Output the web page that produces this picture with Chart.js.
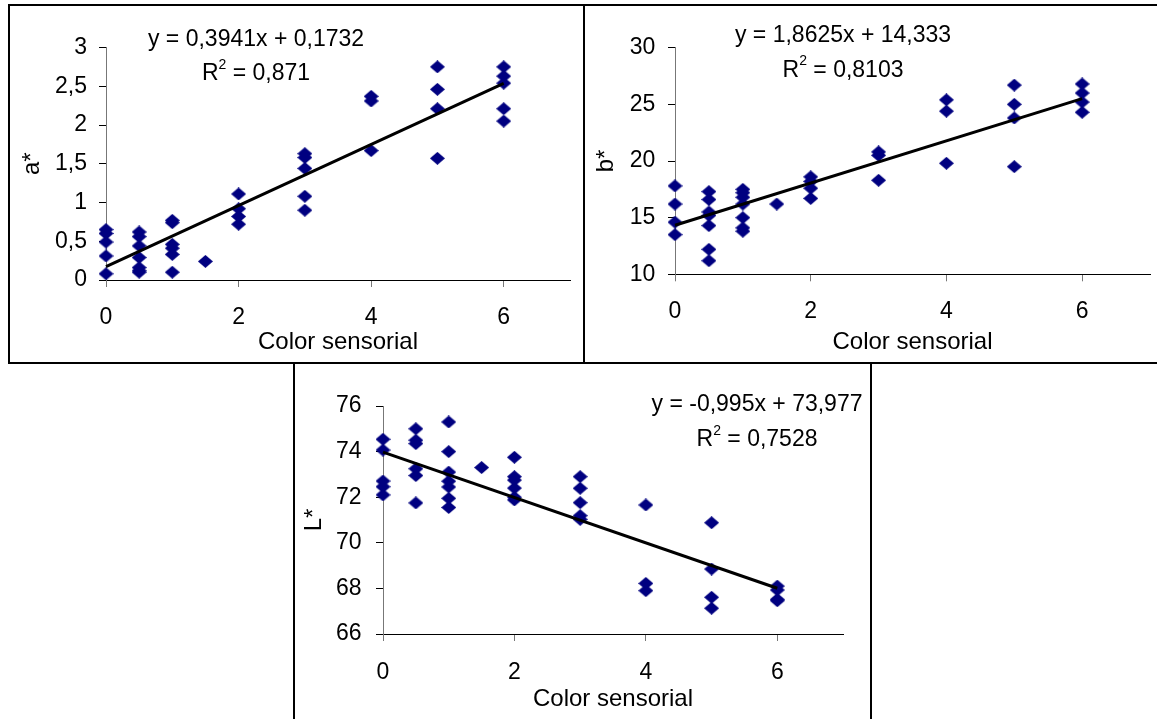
<!DOCTYPE html>
<html>
<head>
<meta charset="utf-8">
<script src="https://cdn.jsdelivr.net/npm/chart.js@4.4.1/dist/chart.umd.min.js"></script>
<style>
  html, body { margin: 0; padding: 0; background: #fff; }
  body { width: 1157px; height: 719px; overflow: hidden; position: relative; }
  canvas { position: absolute; }
  .box { position: absolute; border: 2px solid #000; box-sizing: border-box; pointer-events: none; }
</style>
</head>
<body>
<canvas id="chartA" width="573" height="356" style="left:10px;top:6px"></canvas>
<canvas id="chartB" width="572" height="356" style="left:585px;top:6px"></canvas>
<canvas id="chartL" width="575" height="355" style="left:295px;top:364px"></canvas>
<div class="box" style="left:8px;top:4px;width:577px;height:360px"></div>
<div class="box" style="left:583px;top:4px;width:580px;height:360px"></div>
<div class="box" style="left:293px;top:362px;width:579px;height:370px"></div>
<script>
const FONT = '"Liberation Sans", Arial, sans-serif';
const MARKER = '#000080';

// Sensory colour score vs. instrumental a*
const sensoryA = [0, 0, 0, 0, 0,
  0.5, 0.5, 0.5, 0.5, 0.5, 0.5, 0.5,
  1, 1, 1, 1, 1, 1,
  1.5,
  2, 2, 2, 2,
  3, 3, 3, 3, 3,
  4, 4, 4,
  5, 5, 5, 5,
  6, 6, 6, 6, 6];
const aStar = [0.65, 0.60, 0.49, 0.31, 0.08,
  0.62, 0.56, 0.44, 0.29, 0.16, 0.12, 0.10,
  0.77, 0.74, 0.46, 0.41, 0.33, 0.10,
  0.24,
  1.11, 0.92, 0.82, 0.72,
  1.63, 1.58, 1.44, 1.08, 0.90,
  2.37, 2.31, 1.67,
  2.75, 2.46, 2.21, 1.57,
  2.75, 2.63, 2.54, 2.21, 2.05];
const fitA = [0.3941, 0.1732];
const r2A = 0.871;
const ticksA = [0, 3, 0.5];

// Sensory colour score vs. instrumental b*
const sensoryB = [0, 0, 0, 0,
  0.5, 0.5, 0.5, 0.5, 0.5, 0.5, 0.5,
  1, 1, 1, 1, 1, 1, 1,
  1.5,
  2, 2, 2, 2,
  3, 3, 3,
  4, 4, 4,
  5, 5, 5, 5,
  6, 6, 6, 6];
const bStar = [17.8, 16.2, 14.6, 13.5,
  17.3, 16.6, 15.5, 15.2, 14.3, 12.2, 11.2,
  17.5, 17.2, 16.8, 16.2, 15.0, 14.1, 13.8,
  16.2,
  18.6, 18.2, 17.6, 16.7,
  20.8, 20.5, 18.3,
  25.4, 24.4, 19.8,
  26.7, 25.0, 23.8, 19.5,
  26.8, 26.0, 25.2, 24.3];
const fitB = [1.8625, 14.333];
const r2B = 0.8103;
const ticksB = [10, 30, 5];

// Sensory colour score vs. instrumental L*
const sensoryL = [0, 0, 0, 0, 0,
  0.5, 0.5, 0.5, 0.5, 0.5, 0.5,
  1, 1, 1, 1, 1, 1, 1,
  1.5,
  2, 2, 2, 2, 2, 2,
  3, 3, 3, 3, 3,
  4, 4, 4,
  5, 5, 5, 5,
  6, 6, 6, 6];
const lStar = [74.54, 74.07, 72.71, 72.46, 72.10,
  75.0, 74.5, 74.35, 73.25, 72.95, 71.75,
  75.3, 74.0, 73.1, 72.7, 72.45, 71.95, 71.55,
  73.3,
  73.75, 72.9, 72.75, 72.4, 72.0, 71.88,
  72.9, 72.39, 71.76, 71.19, 71.03,
  71.66, 68.22, 67.9,
  70.88, 68.85, 67.61, 67.13,
  68.1, 67.93, 67.52, 67.46];
const fitL = [-0.995, 73.977];
const r2L = 0.7528;
const ticksL = [66, 76, 2];

const X_TITLE = 'Color sensorial';
const X_TICKS = [0, 7, 2];

const comma = v => String(v).replace('.', ',');

// Slightly wide diamond marker
const diamond = (() => {
  const c = document.createElement('canvas');
  c.width = 15; c.height = 13;
  const g = c.getContext('2d');
  g.fillStyle = MARKER;
  g.beginPath();
  g.moveTo(7.5, 0); g.lineTo(15, 6.5); g.lineTo(7.5, 13); g.lineTo(0, 6.5);
  g.closePath();
  g.fill();
  return c;
})();

// Trendline equation with superscript R²
const equationPlugin = {
  id: 'equation',
  afterDraw(chart, args, o) {
    const ctx = chart.ctx;
    const main = `${o.size}px ${FONT}`;
    const sup = `${Math.round(o.size * 0.62)}px ${FONT}`;
    ctx.save();
    ctx.fillStyle = '#000';
    ctx.textBaseline = 'middle';
    ctx.font = main;
    ctx.textAlign = 'center';
    ctx.fillText(o.eq, o.x1, o.y1);
    ctx.textAlign = 'left';
    const rest = ' = ' + o.r2;
    const wR = ctx.measureText('R').width;
    const wRest = ctx.measureText(rest).width;
    ctx.font = sup;
    const w2 = ctx.measureText('2').width;
    let x = o.x2 - (wR + w2 + wRest) / 2;
    ctx.font = main;
    ctx.fillText('R', x, o.y2);
    x += wR;
    ctx.font = sup;
    ctx.fillText('2', x, o.y2 - o.size * 0.4);
    x += w2;
    ctx.font = main;
    ctx.fillText(rest, x, o.y2);
    ctx.restore();
  }
};

function makeChart(id, xs, ys, fit, r2, yTicks, yTitle, L) {
  const [m, b] = fit;
  const pts = xs.map((x, i) => ({ x, y: ys[i] }));
  const sign = b < 0 ? ' - ' : ' + ';
  const eq = 'y = ' + comma(m) + 'x' + sign + comma(Math.abs(b));
  return new Chart(document.getElementById(id), {
    type: 'scatter',
    data: {
      datasets: [
        {
          data: [{ x: 0, y: b }, { x: 6, y: m * 6 + b }],
          showLine: true,
          borderColor: '#000',
          borderWidth: 3,
          pointRadius: 0,
          clip: false
        },
        {
          data: pts,
          pointStyle: diamond,
          pointRadius: 7,
          pointHoverRadius: 7,
          backgroundColor: MARKER,
          borderColor: MARKER,
          borderWidth: 0,
          clip: false
        }
      ]
    },
    options: {
      responsive: false,
      animation: false,
      events: [],
      layout: { padding: { left: 0, top: L.top, right: L.right, bottom: 0 } },
      plugins: {
        legend: { display: false },
        tooltip: { enabled: false },
        equation: { eq, r2: comma(r2), size: L.eqSize, x1: L.eqX, y1: L.eqY1, x2: L.eqX, y2: L.eqY2 }
      },
      scales: {
        x: {
          type: 'linear',
          min: X_TICKS[0], max: X_TICKS[1],
          afterBuildTicks: s => { s.ticks = s.ticks.filter(t => t.value % X_TICKS[2] === 0); },
          afterFit: s => { s.height = L.xH; },
          ticks: { stepSize: X_TICKS[2], padding: L.xPad, color: '#000', font: { family: FONT, size: L.tick } },
          grid: { drawOnChartArea: false, drawTicks: true, tickLength: 7, color: '#777' },
          border: { display: true, color: '#000', width: 1 },
          title: { display: true, text: X_TITLE, color: '#000', font: { family: FONT, size: L.title }, padding: { top: 0, bottom: L.xTitlePad } }
        },
        y: {
          type: 'linear',
          min: yTicks[0], max: yTicks[1],
          afterFit: s => { s.width = L.yW; },
          ticks: { stepSize: yTicks[2], padding: L.yPad, color: '#000', font: { family: FONT, size: L.tick }, callback: v => comma(v) },
          grid: { drawOnChartArea: false, drawTicks: true, tickLength: 7, color: '#000' },
          border: { display: true, color: '#777', width: 1 },
          title: { display: true, text: yTitle, color: '#000', font: { family: FONT, size: L.title }, padding: { top: L.yTitlePad, bottom: 0 } }
        }
      }
    },
    plugins: [equationPlugin]
  });
}

makeChart('chartA', sensoryA, aStar, fitA, r2A, ticksA, 'a*', {
  top: 41.5, right: 13, xH: 82, yW: 96, xPad: 17, yPad: 12, xTitlePad: 5.6, yTitlePad: 7.6,
  tick: 23, title: 24, eqSize: 23, eqX: 246, eqY1: 34, eqY2: 68
});
makeChart('chartB', sensoryB, bStar, fitB, r2B, ticksB, 'b*', {
  top: 41.7, right: 7, xH: 87.7, yW: 90, xPad: 16.5, yPad: 12.6, xTitlePad: 5.6, yTitlePad: 6.6,
  tick: 23, title: 24, eqSize: 23, eqX: 258, eqY1: 30, eqY2: 64.7
});
makeChart('chartL', sensoryL, lStar, fitL, r2L, ticksL, 'L*', {
  top: 42, right: 27, xH: 85, yW: 88, xPad: 18, yPad: 14.5, xTitlePad: 5, yTitlePad: 5.1,
  tick: 23, title: 24, eqSize: 23, eqX: 462, eqY1: 41, eqY2: 76
});
</script>
</body>
</html>
